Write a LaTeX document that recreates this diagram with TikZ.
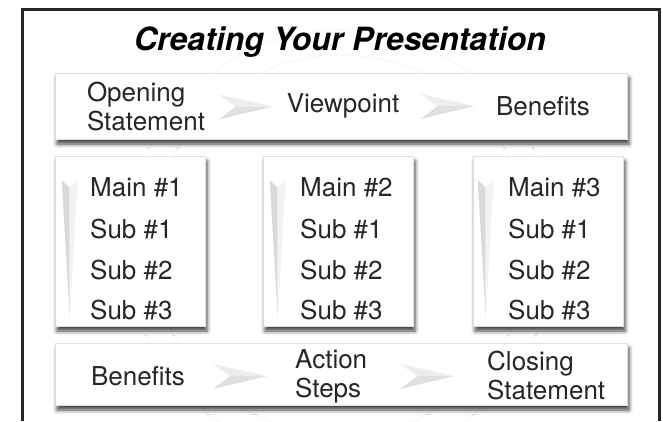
\documentclass[tikz,border=0pt]{standalone}
\usepackage{fontspec}
\setmainfont{TeX Gyre Heros}
\usepackage{tikz}
\usetikzlibrary{calc}
\usetikzlibrary{shadows.blur}
\tikzset{
  panel/.style={fill=white, draw=gray!25, line width=.6pt,
    blur shadow={shadow xshift=2pt, shadow yshift=-5pt, shadow blur radius=4pt, shadow opacity=75}},
  lbl/.style={inner sep=0, font=\fontsize{26}{29}\selectfont, text=black!85},
  item/.style={lbl, anchor=west},
  heading/.style={inner sep=0, font=\fontsize{32}{32}\selectfont\bfseries\itshape},
  frame/.style={line width=3pt, black!85},
  pics/chev/.style={code={
    \fill[gray!14] (-27,-12)--(27,0)--(-10,0)--cycle;
    \fill[gray!24] (-27,13)--(27,0)--(-10,0)--cycle;}},
  pics/thorn/.style={code={
    \fill[gray!30] (0,0)--(8,8)--(8,138)--cycle;
    \fill[gray!10] (16,0)--(8,8)--(8,138)--cycle;}}
}

\begin{document}
\begin{tikzpicture}[x=1pt, y=-1pt]
\useasboundingbox (0,0) rectangle (663,421);
\draw[gray!5, line width=2pt] (341,245) circle (215) (341,245) circle (190);
\draw[frame] (22,421)--(22,9)--(659,9)--(659,421);
\node[heading] (title) at (340,42) {Creating Your Presentation};

\node[panel, minimum width=572pt, minimum height=66pt] (band1) at (341,106) {};
\node[panel, minimum width=150pt, minimum height=170pt] (col1) at (130,241) {};
\node[panel, minimum width=150pt, minimum height=170pt] (col2) at (338,241) {};
\node[panel, minimum width=150pt, minimum height=170pt] (col3) at (548,241) {};
\node[panel, minimum width=572pt, minimum height=62pt] (band2) at (341,374) {};

\node[lbl, align=left] (open) at (146,107) {Opening\\Statement};
\node[lbl] (view) at (343,106) {Viewpoint};
\node[lbl] (benA) at (543,106) {Benefits};
\pic at ($(open.east)!.5!(view.west)$) {chev};
\pic at ($(view.east)!.5!(benA.west)$) {chev};

\pic at ([shift={(7,24)}]col1.north west) {thorn};
\pic at ([shift={(7,24)}]col2.north west) {thorn};
\pic at ([shift={(5,24)}]col3.north west) {thorn};
\node[item] (m1) at (90,187) {Main \#1}; \node[item] (s11) at (90,229) {Sub \#1};
\node[item] (s12) at (90,270) {Sub \#2}; \node[item] (s13) at (90,310) {Sub \#3};
\node[item] (m2) at (300,187) {Main \#2}; \node[item] (s21) at (300,229) {Sub \#1};
\node[item] (s22) at (300,270) {Sub \#2}; \node[item] (s23) at (300,310) {Sub \#3};
\node[item] (m3) at (508,187) {Main \#3}; \node[item] (s31) at (508,229) {Sub \#1};
\node[item] (s32) at (508,270) {Sub \#2}; \node[item] (s33) at (508,310) {Sub \#3};

\node[lbl] (benB) at (138,376) {Benefits};
\node[lbl, align=left, anchor=west] (act) at (295,376) {Action\\Steps};
\node[lbl, align=left, anchor=west] (close) at (487,376) {Closing\\Statement};
\pic at ($(benB.east)!.5!(act.west)$) {chev};
\pic at ($(act.east)!.5!(close.west)$) {chev};
\end{tikzpicture}
\end{document}
